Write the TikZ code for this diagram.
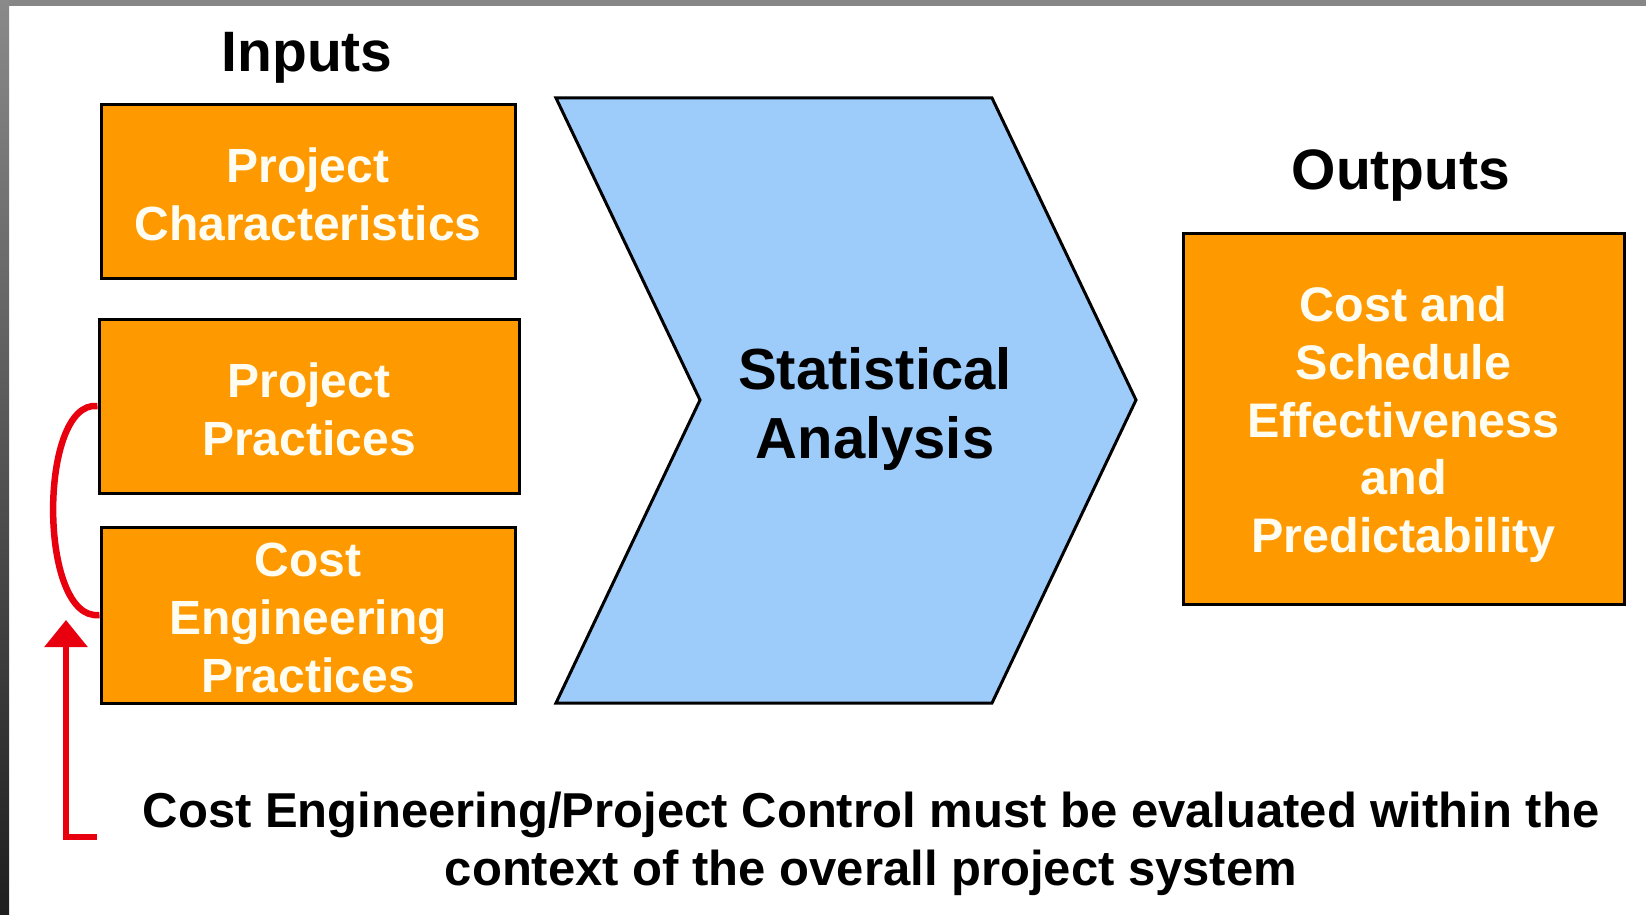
\documentclass[tikz,border=0pt]{standalone}
\usepackage{fontspec}
\setmainfont{Liberation Sans}
\usetikzlibrary{arrows.meta}
\definecolor{boxorange}{HTML}{FF9900}
\definecolor{chevblue}{HTML}{9ECCFA}
\definecolor{loopred}{HTML}{E8000F}
\definecolor{boxtext}{HTML}{FFFDF2}
\tikzset{
  obox/.style={draw=black, line width=3pt, fill=boxorange, inner sep=0pt},
  otext/.style={text=boxtext, align=center, inner sep=0pt, font=\bfseries\fontsize{48}{58}\selectfont},
  header/.style={font=\bfseries\fontsize{57}{68}\selectfont, text=black, inner sep=0pt},
  redline/.style={draw=loopred, line width=6pt},
}
\begin{document}
\begin{tikzpicture}[x=1pt, y=-1pt]
\useasboundingbox (0,0) rectangle (1646,915);
\fill[white] (0,0) rectangle (1646,915);
\fill[black!47] (0,0) rectangle (1646,6);
\shade[top color=black!46, bottom color=black!88] (0,0) rectangle (9,915);

\node[header] (inp) at (307,58) {Inputs};
\node[header] (outp) at (1401,176) {Outputs};

\node[obox, minimum width=414pt, minimum height=173pt] (pc) at (308,191.5) {};
\node[otext] (pc-t) at ([yshift=-2.5pt]pc.center) {Project\\Characteristics};
\node[obox, minimum width=420pt, minimum height=174pt] (pp) at (309,406) {};
\node[otext] (pp-t) at ([yshift=-3pt]pp.center) {Project\\Practices};
\node[obox, minimum width=414pt, minimum height=176pt] (cep) at (308,615) {};
\node[otext] (cep-t) at ([yshift=-3pt]cep.center) {Cost\\Engineering\\Practices};

\draw[line width=3pt, fill=chevblue, line join=miter]
  (556,98) -- (992,98) -- (1136,400) -- (992,703) -- (556,703) -- (700,400) -- cycle;
\node[font=\bfseries\fontsize{58}{69}\selectfont, align=center, text=black, inner sep=0pt] (sa) at (875,409) {Statistical\\Analysis};

\node[obox, minimum width=441pt, minimum height=371pt] (out) at (1403.5,418.5) {};
\node[otext, font=\bfseries\fontsize{48.5}{57.75}\selectfont] (out-t) at ([yshift=-6pt]out.center)
  {Cost and\\Schedule\\Effectiveness\\and\\Predictability};

\draw[redline, line width=6.5pt] (pp.west) .. controls (38,400) and (38,622) .. (cep.west);

\coordinate (foot) at (97,837);
\coordinate (corner) at (66,837);
\coordinate (tip) at (66,620);
\draw[redline, line join=miter, -{Triangle[width=42pt,length=27pt]}] (foot) -- (corner) -- (tip);

\node[font=\bfseries\fontsize{49}{58}\selectfont, align=center, text=black, inner sep=0pt] (note) at (871,844)
  {Cost Engineering/Project Control must be evaluated within the\\context of the overall project system};
\end{tikzpicture}
\end{document}
